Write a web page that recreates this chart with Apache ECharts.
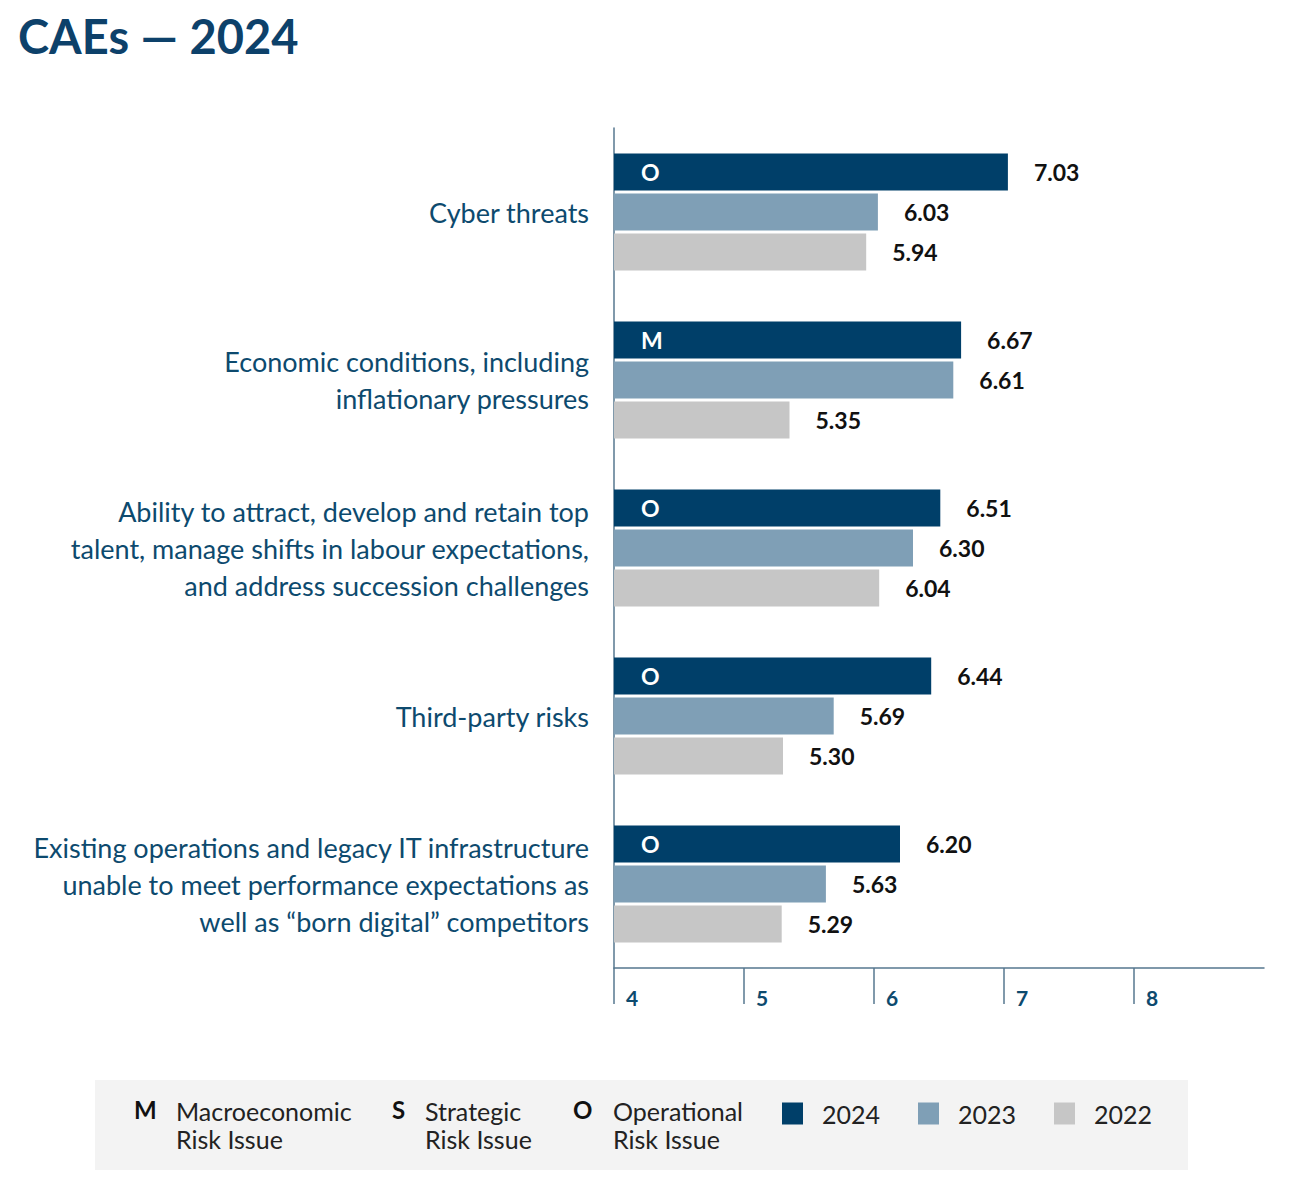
<!DOCTYPE html>
<html>
<head>
<meta charset="utf-8">
<script src="https://cdn.jsdelivr.net/npm/echarts@6/dist/echarts.min.js"></script>
<style>
  html, body { margin: 0; padding: 0; background: #fff; }
  #chart { width: 1300px; height: 1188px; }
</style>
</head>
<body>
<div id="chart"></div>
<script>
var categories = [
  'Cyber threats',
  'Economic conditions, including\ninflationary pressures',
  'Ability to attract, develop and retain top\ntalent, manage shifts in labour expectations,\nand address succession challenges',
  'Third-party risks',
  'Existing operations and legacy IT infrastructure\nunable to meet performance expectations as\nwell as \u201cborn digital\u201d competitors'
];
var riskTypes = ['O', 'M', 'O', 'O', 'O'];
var values2024 = [7.03, 6.67, 6.51, 6.44, 6.20];
var values2023 = [6.03, 6.61, 6.30, 5.69, 5.63];
var values2022 = [5.94, 5.35, 6.04, 5.30, 5.29];
var xTicks = [4, 5, 6, 7, 8];

var navy = '#003f69';
var steel = '#7f9fb6';
var grey = '#c6c6c6';
var axisColor = '#56778f';
var labelBlue = '#0d4a6e';
var font = 'Lato';

var chart = echarts.init(document.getElementById('chart'), null, { renderer: 'svg' });

var valueLabel = {
  show: true,
  position: 'right',
  distance: 26,
  color: '#111',
  fontFamily: font,
  fontWeight: 'bold',
  fontSize: 23,
  formatter: function(p) { return p.value.toFixed(2); }
};

function barSeries(name, data, color) {
  return {
    name: name,
    type: 'bar',
    yAxisIndex: 0,
    data: data,
    barWidth: 37,
    barGap: '8%',
    itemStyle: { color: color },
    label: valueLabel
  };
}

// overlay on a hidden twin axis, just to carry the risk-type letter
function ghostSeries(name, data, withLetter) {
  return {
    name: name,
    type: 'bar',
    yAxisIndex: 1,
    data: data,
    barWidth: 37,
    barGap: '8%',
    silent: true,
    itemStyle: { color: 'rgba(0,0,0,0)' },
    label: withLetter ? {
      show: true,
      position: 'insideLeft',
      distance: 27,
      color: '#fff',
      fontFamily: font,
      fontWeight: 'bold',
      fontSize: 23,
      formatter: function(p) { return riskTypes[p.dataIndex]; }
    } : { show: false }
  };
}

var keyItems = [
  { letter: 'M', text: 'Macroeconomic\nRisk Issue', x: 134, tx: 176 },
  { letter: 'S', text: 'Strategic\nRisk Issue', x: 392, tx: 425 },
  { letter: 'O', text: 'Operational\nRisk Issue', x: 573, tx: 613 }
];
var keyGraphics = [];
keyItems.forEach(function(k) {
  keyGraphics.push({
    type: 'text', left: k.x, top: 1097,
    style: { text: k.letter, font: 'bold 24px Lato', fill: '#111' }
  });
  keyGraphics.push({
    type: 'text', left: k.tx, top: 1097,
    style: { text: k.text, font: '25px Lato', fill: '#222', lineHeight: 28 }
  });
});

chart.setOption({
  animation: false,
  textStyle: { fontFamily: font },
  graphic: [
    {
      type: 'rect', left: 95, top: 1080, z: -10,
      shape: { width: 1093, height: 90 },
      style: { fill: '#f3f3f3' }
    },
    {
      type: 'text', left: 18, top: 12,
      style: { text: 'CAEs \u2014 2024', font: 'bold 47px Lato', fill: '#0d416a' }
    }
  ].concat(keyGraphics),
  legend: {
    data: ['2024', '2023', '2022'],
    left: 782,
    top: 1101,
    padding: 0,
    icon: 'rect',
    itemWidth: 21,
    itemHeight: 22,
    itemGap: 38,
    selectedMode: false,
    textStyle: { fontFamily: font, fontSize: 25, color: '#222', padding: [0, 0, 0, 14] }
  },
  grid: { left: 614, right: 36, top: 128, bottom: 220, containLabel: false },
  xAxis: {
    type: 'value',
    min: 4,
    max: 9,
    interval: 1,
    axisLine: { show: true, lineStyle: { color: axisColor, width: 1.5 } },
    axisTick: { show: true, customValues: xTicks, length: 36, lineStyle: { color: axisColor, width: 1.5 } },
    axisLabel: {
      color: labelBlue,
      fontFamily: font,
      fontWeight: 'bold',
      fontSize: 21,
      align: 'left',
      verticalAlign: 'top',
      margin: 19,
      padding: [0, 0, 0, 12],
      formatter: function(v) { return xTicks.indexOf(v) >= 0 ? String(v) : ''; }
    },
    splitLine: { show: false }
  },
  yAxis: [
    {
      type: 'category',
      data: categories,
      inverse: true,
      axisLine: { show: true, lineStyle: { color: axisColor, width: 1.5 } },
      axisTick: { show: false },
      axisLabel: {
        color: labelBlue,
        fontFamily: font,
        fontSize: 27,
        lineHeight: 37,
        align: 'right',
        margin: 25
      }
    },
    {
      type: 'category',
      data: categories,
      inverse: true,
      show: false
    }
  ],
  series: [
    barSeries('2024', values2024, navy),
    barSeries('2023', values2023, steel),
    barSeries('2022', values2022, grey),
    ghostSeries('letters', values2024, true),
    ghostSeries('pad1', [], false),
    ghostSeries('pad2', [], false)
  ]
});
window.addEventListener('resize', function() { chart.resize(); });
</script>
</body>
</html>
